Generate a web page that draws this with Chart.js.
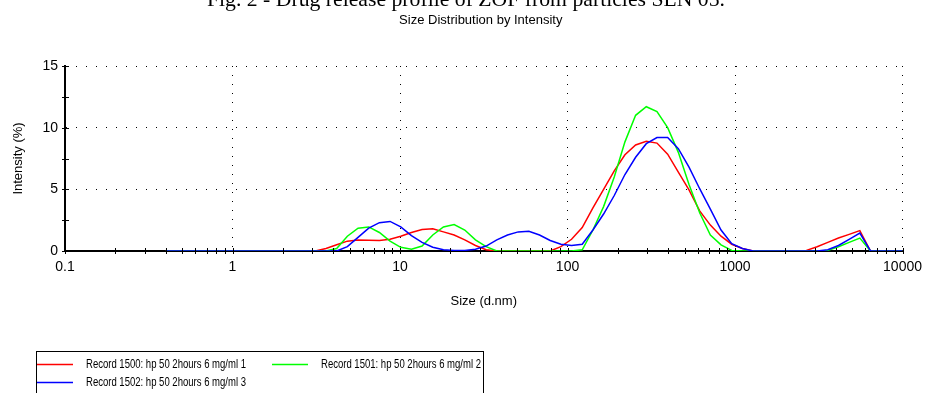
<!DOCTYPE html>
<html>
<head>
<meta charset="utf-8">
<script src="https://cdn.jsdelivr.net/npm/chart.js@4.4.0/dist/chart.umd.min.js"></script>
<style>
  html, body { margin: 0; padding: 0; background: #fff; }
  #wrap { width: 930px; height: 393px; position: relative; }
</style>
</head>
<body>
<div id="wrap"><canvas id="chart" width="930" height="393"></canvas></div>
<script>
// size classes (d.nm) of the instrument
const sizes = [
  0.4, 0.4632, 0.5365, 0.6213, 0.7195, 0.8332, 0.9649, 1.117, 1.294, 1.499,
  1.736, 2.010, 2.328, 2.696, 3.122, 3.615, 4.187, 4.849, 5.615, 6.503,
  7.531, 8.721, 10.10, 11.70, 13.54, 15.69, 18.17, 21.04, 24.36, 28.21,
  32.67, 37.84, 43.82, 50.75, 58.77, 68.06, 78.82, 91.28, 105.7, 122.4,
  141.8, 164.2, 190.1, 220.2, 255.0, 295.3, 342.0, 396.1, 458.7, 531.2,
  615.1, 712.4, 825.0, 955.4, 1106, 1281, 1484, 1718, 1990, 2305,
  2669, 3091, 3580, 4145, 4801, 5560, 6439, 7456, 8635, 10000
];

// intensity (%) per size class
const record1500 = [
  0, 0, 0, 0, 0, 0, 0, 0, 0, 0,
  0, 0, 0, 0, 0, 0.2, 0.5, 0.8, 0.9, 0.88,
  0.85, 0.95, 1.2, 1.5, 1.75, 1.8, 1.55, 1.3, 0.9, 0.45,
  0.1, 0, 0, 0, 0, 0, 0, 0.35, 0.95, 1.9,
  3.5, 5.0, 6.5, 7.8, 8.6, 8.9, 8.75, 7.85, 6.4, 4.95,
  3.25, 2.1, 1.2, 0.55, 0.2, 0, 0, 0, 0, 0,
  0.05, 0.35, 0.7, 1.05, 1.35, 1.65, 0, 0, 0, 0
];
const record1501 = [
  0, 0, 0, 0, 0, 0, 0, 0, 0, 0,
  0, 0, 0, 0, 0, 0, 0.2, 1.2, 1.85, 1.95,
  1.5, 0.8, 0.3, 0.15, 0.4, 1.3, 1.95, 2.15, 1.7, 0.9,
  0.35, 0, 0, 0, 0, 0, 0, 0, 0, 0.1,
  1.7, 3.6, 6.0, 8.85, 11.0, 11.7, 11.3, 10.0, 8.0, 5.4,
  3.1, 1.3, 0.5, 0.05, 0, 0, 0, 0, 0, 0,
  0, 0, 0.05, 0.35, 0.7, 1.05, 0, 0, 0, 0
];
const record1502 = [
  0, 0, 0, 0, 0, 0, 0, 0, 0, 0,
  0, 0, 0, 0, 0, 0, 0, 0.35, 1.1, 1.85,
  2.3, 2.4, 1.95, 1.25, 0.7, 0.3, 0.1, 0.05, 0.05, 0.15,
  0.4, 0.9, 1.3, 1.55, 1.6, 1.3, 0.85, 0.55, 0.45, 0.55,
  1.7, 3.0, 4.5, 6.2, 7.6, 8.7, 9.2, 9.2, 8.3, 6.8,
  5.05, 3.4, 1.7, 0.6, 0.2, 0, 0, 0, 0, 0,
  0, 0, 0.1, 0.45, 0.95, 1.45, 0, 0, 0, 0
];

const seriesLabels = [
  "Record 1500: hp 50 2hours 6 mg/ml 1",
  "Record 1501: hp 50 2hours 6 mg/ml 2",
  "Record 1502: hp 50 2hours 6 mg/ml 3"
];
const seriesColors = ["#ff0000", "#00ff00", "#0000ff"];

const xDecades = [0.1, 1, 10, 100, 1000, 10000];
const xTickLabels = ["0.1", "1", "10", "100", "1000", "10000"];
const xMinorTicks = [
  0.2, 0.3, 0.4, 0.5, 0.6, 0.7, 0.8, 0.9,
  2, 3, 4, 5, 6, 7, 8, 9,
  20, 30, 40, 50, 60, 70, 80, 90,
  200, 300, 400, 500, 600, 700, 800, 900,
  2000, 3000, 4000, 5000, 6000, 7000, 8000, 9000
];
const yTicks = [0, 2.5, 5, 7.5, 10, 12.5, 15];
const yLabelled = [0, 5, 10, 15];

const figCaption = "Fig. 2 - Drug release profile of ZOF from particles SLN 05.";
const chartTitle = "Size Distribution by Intensity";

function toPoints(values) {
  return values.map((v, i) => ({ x: sizes[i], y: v }));
}

const decor = {
  id: "decor",
  afterDatasetsDraw(chart) {
    const { ctx, scales: { x, y } } = chart;
    ctx.save();
    ctx.strokeStyle = "#000";
    ctx.lineWidth = 1;
    ctx.beginPath();
    x.ticks.forEach(t => {
      const px = Math.round(x.getPixelForValue(t.value)) + 0.5;
      ctx.moveTo(px, y.bottom - 3);
      ctx.lineTo(px, y.bottom + 3);
    });
    y.ticks.forEach(t => {
      const py = Math.round(y.getPixelForValue(t.value)) + 0.5;
      ctx.moveTo(x.left - 3, py);
      ctx.lineTo(x.left + 4, py);
    });
    ctx.stroke();
    ctx.restore();
  },
  afterDraw(chart) {
    const { ctx, chartArea } = chart;
    const cx = (chartArea.left + chartArea.right) / 2;
    ctx.save();
    ctx.fillStyle = "#000";

    // caption of the page, cut at the top
    ctx.font = "22px 'Liberation Serif', 'Times New Roman', serif";
    ctx.textBaseline = "alphabetic";
    ctx.textAlign = "left";
    const cw = ctx.measureText(figCaption).width;
    ctx.save();
    ctx.translate(207, 5.5);
    ctx.scale(518 / cw, 1);
    ctx.fillText(figCaption, 0, 0);
    ctx.restore();

    ctx.font = "13px 'Liberation Sans', Arial, sans-serif";
    ctx.textAlign = "center";
    ctx.textBaseline = "middle";
    ctx.fillText(chartTitle, cx - 3, 20);

    // legend box
    ctx.strokeStyle = "#000";
    ctx.lineWidth = 1;
    ctx.strokeRect(36.5, 351.5, 447, 60);
    const slots = [[37, 364.5], [272, 364.5], [37, 382.5]];
    ctx.font = "13px 'Liberation Sans', Arial, sans-serif";
    ctx.textAlign = "left";
    chart.data.datasets.forEach((ds, i) => {
      const [sx, sy] = slots[i];
      ctx.strokeStyle = ds.borderColor;
      ctx.lineWidth = 1.5;
      ctx.beginPath();
      ctx.moveTo(sx, sy);
      ctx.lineTo(sx + 36, sy);
      ctx.stroke();
      const w = ctx.measureText(ds.label).width;
      ctx.save();
      ctx.translate(sx + 49, sy);
      ctx.scale(160 / w, 1);
      ctx.fillText(ds.label, 0, 0);
      ctx.restore();
    });
    ctx.restore();
  }
};

Chart.defaults.font.family = "'Liberation Sans', Arial, sans-serif";
Chart.defaults.font.size = 13;
Chart.defaults.color = "#000";

new Chart(document.getElementById("chart").getContext("2d"), {
  type: "line",
  data: {
    datasets: seriesLabels.map((label, i) => ({
      label: label,
      data: toPoints([record1500, record1501, record1502][i]),
      borderColor: seriesColors[i],
      borderWidth: 1.5,
      pointRadius: 0,
      tension: 0,
      fill: false,
      order: 3 - i
    }))
  },
  options: {
    responsive: false,
    animation: false,
    events: [],
    layout: { padding: { left: 0, top: 66, right: 24, bottom: 84 } },
    plugins: { legend: { display: false }, tooltip: { enabled: false } },
    scales: {
      x: {
        type: "logarithmic",
        min: 0.1,
        max: 10000,
        afterBuildTicks: scale => {
          scale.ticks = xDecades.concat(xMinorTicks).sort((a, b) => a - b).map(v => ({ value: v }));
        },
        afterFit: scale => { scale.height = 58; },
        ticks: {
          autoSkip: false,
          maxRotation: 0,
          padding: 8,
          font: { size: 14 },
          callback: v => {
            const k = xDecades.indexOf(v);
            return k >= 0 ? xTickLabels[k] : "";
          }
        },
        grid: {
          drawTicks: false,
          lineWidth: 1,
          color: c => (c.tick && c.tick.value !== 0.1 && xDecades.includes(c.tick.value)) ? "#000" : "rgba(0,0,0,0)"
        },
        border: { display: true, color: "#000", width: 2, dash: [1, 8] },
        title: { display: true, text: "Size (d.nm)", padding: { top: 0, bottom: 0 } }
      },
      y: {
        min: 0,
        max: 15,
        afterBuildTicks: scale => {
          scale.ticks = yTicks.map(v => ({ value: v }));
        },
        afterFit: scale => { scale.width = 65; },
        ticks: {
          padding: 7,
          font: { size: 14 },
          callback: v => yLabelled.includes(v) ? String(v) : ""
        },
        grid: {
          drawTicks: false,
          lineWidth: 1,
          color: c => (c.tick && c.tick.value > 0 && yLabelled.includes(c.tick.value)) ? "#000" : "rgba(0,0,0,0)"
        },
        border: { display: true, color: "#000", width: 2, dash: [1, 9] },
        title: { display: true, text: "Intensity (%)", padding: { top: 11, bottom: 0 } }
      }
    }
  },
  plugins: [decor]
});
</script>
</body>
</html>
